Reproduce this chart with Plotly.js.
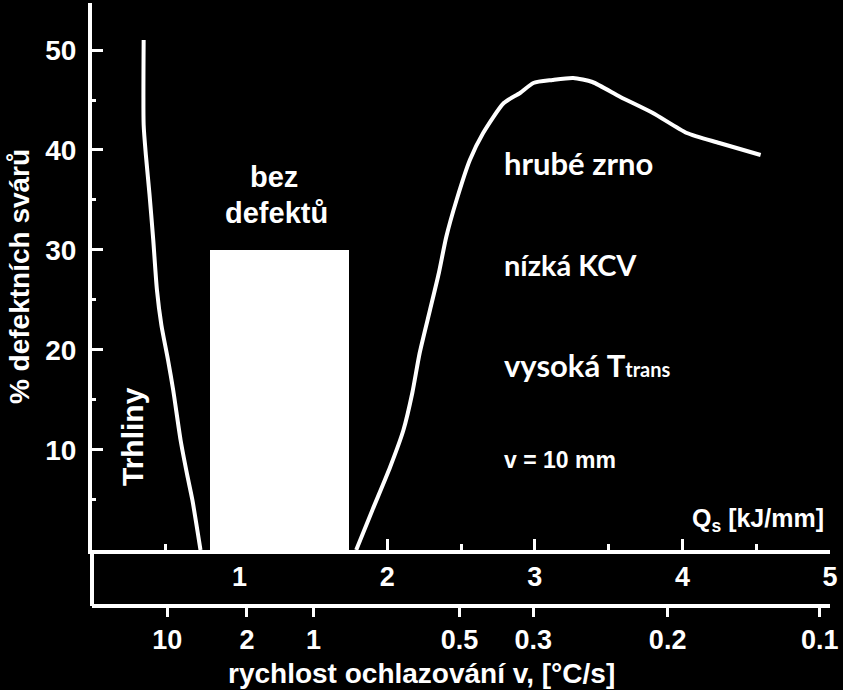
<!DOCTYPE html>
<html>
<head>
<meta charset="utf-8">
<script src="https://cdn.plot.ly/plotly-3.0.1.min.js"></script>
<style>
  html, body { margin: 0; padding: 0; background: #000; }
  #chart { width: 843px; height: 690px; }
</style>
</head>
<body>
<div id="chart"></div>
<script>
// heat input Q_s [kJ/mm] vs. % defective welds
const crackQ = [0.35, 0.35, 0.365, 0.39, 0.415, 0.44, 0.47, 0.515, 0.55, 0.6, 0.645, 0.68, 0.735];
const crackPct = [51, 42.5, 39.5, 35.5, 31, 26, 22.5, 19, 16, 11, 7.5, 5, 0];

const grainQ = [1.79, 1.9, 2.02, 2.11, 2.17, 2.22, 2.29, 2.35, 2.4, 2.47, 2.56, 2.65, 2.79, 2.9, 2.99, 3.12, 3.26, 3.39, 3.58, 3.8, 4.03, 4.25, 4.53];
const grainPct = [0, 4, 8.3, 12, 15.7, 19.7, 24, 27.7, 31.3, 35, 39, 41.7, 44.7, 45.7, 46.7, 47, 47.2, 46.8, 45.3, 43.7, 41.7, 40.7, 39.5];

// defect-free window
const zoneQ = [0.8, 1.74];
const zonePct = [30];

const qTicks = [1, 2, 3, 4, 5];
const pctTicks = [10, 20, 30, 40, 50];
// cooling rate v [°C/s] positions on the Q scale
const rateTickPos = [0.51, 1.05, 1.5, 2.49, 2.99, 3.9, 4.93];
const rateTickText = ["10", "2", "1", "0.5", "0.3", "0.2", "0.1"];

const FONT = "Liberation Sans, Arial, sans-serif";
const WHITE = "#ffffff";

const traces = [
  {
    x: [(zoneQ[0] + zoneQ[1]) / 2],
    y: zonePct,
    width: [zoneQ[1] - zoneQ[0]],
    type: "bar",
    marker: { color: WHITE, line: { width: 0 } },
    hoverinfo: "skip",
  },
  {
    x: crackQ,
    y: crackPct,
    type: "scatter",
    mode: "lines",
    line: { color: WHITE, width: 4, shape: "spline", smoothing: 0.6 },
  },
  {
    x: grainQ,
    y: grainPct,
    type: "scatter",
    mode: "lines",
    line: { color: WHITE, width: 4, shape: "spline", smoothing: 0.6 },
  },
  // keeps the cooling-rate axis alive
  { x: [], y: [], xaxis: "x2", type: "scatter", mode: "lines" },
];

const txt = (text, x, y, size, opts = {}) =>
  Object.assign(
    {
      text, x, y, xref: "x", yref: "y", showarrow: false,
      font: { family: FONT, size, color: WHITE, weight: "bold" },
      xanchor: "left", yanchor: "middle",
    },
    opts
  );

const LATO = { family: "Lato, sans-serif", size: 31, color: WHITE, weight: "bold" };
const tickFont = { family: FONT, size: 27, color: WHITE, weight: "bold" };

const layout = {
  width: 843,
  height: 690,
  paper_bgcolor: "#000",
  plot_bgcolor: "#000",
  showlegend: false,
  bargap: 0,
  margin: { l: 92, r: 13, t: 3, b: 84 },
  font: { family: FONT, color: WHITE, size: 28, weight: "bold" },
  xaxis: {
    range: [0, 5],
    anchor: "y",
    showgrid: false,
    zeroline: false,
    showline: true,
    linecolor: WHITE,
    linewidth: 4,
    ticks: "inside",
    ticklen: 11,
    tickwidth: 3,
    tickcolor: WHITE,
    tickmode: "array",
    tickvals: qTicks,
    ticktext: qTicks.map(String),
    ticklabelstandoff: 0,
    tickfont: tickFont,
    minor: { tickmode: "linear", dtick: 0.5, tick0: 0, ticks: "inside", ticklen: 6, tickwidth: 3, tickcolor: WHITE },
  },
  xaxis2: {
    range: [0, 5],
    overlaying: "x",
    anchor: "free",
    position: 0,
    side: "bottom",
    showgrid: false,
    zeroline: false,
    showline: true,
    linecolor: WHITE,
    linewidth: 4,
    ticks: "outside",
    ticklen: 9,
    tickwidth: 3,
    tickcolor: WHITE,
    tickmode: "array",
    tickvals: rateTickPos,
    ticktext: rateTickText,
    tickfont: tickFont,
  },
  yaxis: {
    range: [0, 54.7],
    domain: [0.0929, 1],
    showgrid: false,
    zeroline: false,
    showline: true,
    linecolor: WHITE,
    linewidth: 4,
    ticks: "inside",
    ticklen: 11,
    tickwidth: 3,
    tickcolor: WHITE,
    tickmode: "array",
    tickvals: pctTicks,
    ticklabelstandoff: 6,
    tickfont: { family: FONT, size: 28, color: WHITE, weight: "bold" },
    minor: { tickmode: "linear", dtick: 5, tick0: 0, ticks: "inside", ticklen: 4, tickwidth: 3, tickcolor: WHITE },
    title: { text: "% defektních svárů", standoff: 8, font: { family: FONT, size: 28, color: WHITE, weight: "bold" } },
  },
  shapes: [
    // left frame between the two bottom scales
    { type: "line", xref: "paper", yref: "paper", x0: 0, x1: 0, y0: 0, y1: 0.0929, line: { color: WHITE, width: 4 } },
  ],
  annotations: [
    txt("rychlost ochlazování v, [°C/s]", 0.446, -0.112, 28, { xref: "paper", yref: "paper", xanchor: "center" }),
    txt("Trhliny", 0.278, 11.3, 30, { xanchor: "center", textangle: -90 }),
    txt("bez", 1.23, 37.3, 29, { xanchor: "center" }),
    txt("defektů", 1.25, 33.7, 29, { xanchor: "center" }),
    Object.assign(txt("hrubé zrno", 2.78, 38.7, 31), { font: LATO }),
    Object.assign(txt("nízká KCV", 2.78, 28.5, 31), { font: Object.assign({}, LATO, { size: 29 }) }),
    Object.assign(txt('vysoká T<span style="font-size:20px">trans</span>', 2.78, 18.5, 31), { font: LATO }),
    txt("v = 10 mm", 2.78, 9.0, 23),
    txt("Q<sub>s</sub> [kJ/mm]", 4.05, 3.0, 25),
  ],
};

Plotly.newPlot("chart", traces, layout, { displayModeBar: false, staticPlot: true });
</script>
</body>
</html>
